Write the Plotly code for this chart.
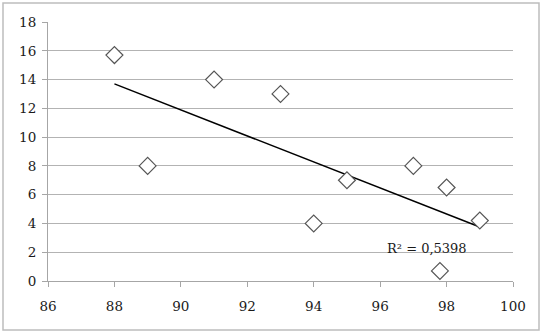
import numpy as np
import plotly.graph_objects as go

x_vals = [88, 89, 91, 93, 94, 95, 97, 97.8, 98, 99]
y_vals = [15.7, 8, 14, 13, 4, 7, 8, 0.7, 6.5, 4.2]
x_ticks = [86, 88, 90, 92, 94, 96, 98, 100]
y_ticks = [0, 2, 4, 6, 8, 10, 12, 14, 16, 18]
r2_label = "R² = 0,5398"

slope, intercept = np.polyfit(x_vals, y_vals, 1)
tx = [min(x_vals), max(x_vals)]
ty = [slope * v + intercept for v in tx]

FONT = "DejaVu Serif"
fig = go.Figure()
fig.add_trace(go.Scatter(x=tx, y=ty, mode="lines",
                         line=dict(color="black", width=1.5), hoverinfo="skip"))
fig.add_trace(go.Scatter(x=x_vals, y=y_vals, mode="markers",
                         marker=dict(symbol="diamond", size=13, color="white",
                                     line=dict(color="#555555", width=1.2))))

W, H = 543, 333
L, R, T, B = 48, 30, 22, 52
pw, ph = W - L - R, H - T - B

def px(xp):
    return (xp - L) / pw

def py(yp):
    return (H - B - yp) / ph

fig.add_shape(type="rect", xref="paper", yref="paper",
              x0=px(3), x1=px(539), y0=py(330), y1=py(3),
              line=dict(color="#bdbdbd", width=1.5), fillcolor="rgba(0,0,0,0)",
              layer="below")

fig.add_annotation(x=97.42, y=2.25, text=r2_label, showarrow=False,
                   font=dict(family=FONT, size=13, color="#1a1a1a"))

fig.update_layout(
    width=W, height=H,
    margin=dict(l=L, r=R, t=T, b=B),
    plot_bgcolor="white", paper_bgcolor="white",
    showlegend=False,
    font=dict(family=FONT, size=13.5, color="#1a1a1a"),
)
fig.update_xaxes(range=[86, 100], tickvals=x_ticks, showgrid=False,
                 showline=True, linecolor="#a6a6a6", linewidth=1,
                 ticks="outside", ticklen=5, tickcolor="#a6a6a6",
                 zeroline=False, ticklabelstandoff=8)
fig.update_yaxes(range=[0, 18], tickvals=y_ticks, showgrid=True,
                 gridcolor="#b3b3b3", gridwidth=1,
                 showline=True, linecolor="#a6a6a6", linewidth=1,
                 ticks="outside", ticklen=5, tickcolor="#a6a6a6",
                 zeroline=False, ticklabelstandoff=3)

fig.write_html("out.html")
